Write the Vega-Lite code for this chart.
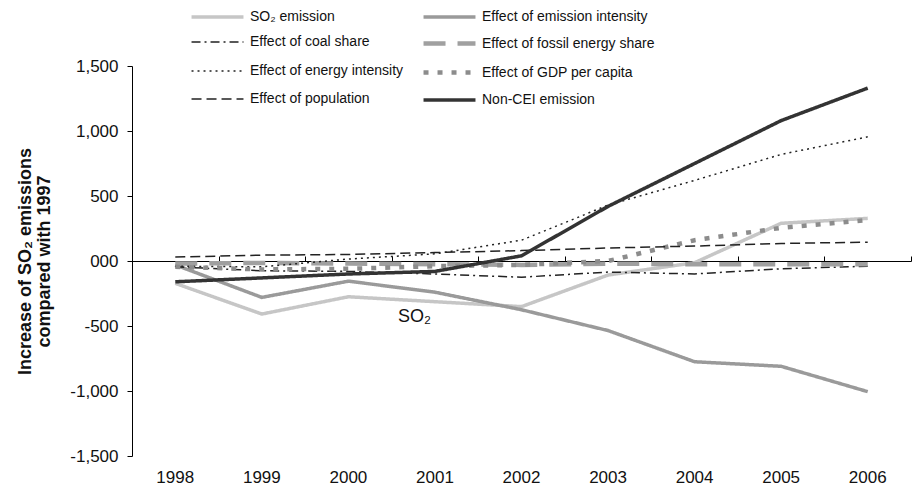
{
  "$schema": "https://vega.github.io/schema/vega-lite/v6.json",
  "width": 779,
  "height": 390,
  "autosize": {"type": "none"},
  "padding": {"left": 132, "top": 66, "right": 1, "bottom": 39},
  "background": "white",
  "config": {"view": {"stroke": null}, "font": "Liberation Sans"},
  "data": {"values": [
    {"year": "1998", "series": "SO₂ emission", "value": -172},
    {"year": "1999", "series": "SO₂ emission", "value": -408},
    {"year": "2000", "series": "SO₂ emission", "value": -275},
    {"year": "2001", "series": "SO₂ emission", "value": -313},
    {"year": "2002", "series": "SO₂ emission", "value": -351},
    {"year": "2003", "series": "SO₂ emission", "value": -108},
    {"year": "2004", "series": "SO₂ emission", "value": -13},
    {"year": "2005", "series": "SO₂ emission", "value": 290},
    {"year": "2006", "series": "SO₂ emission", "value": 328},
    {"year": "1998", "series": "Effect of emission intensity", "value": -30},
    {"year": "1999", "series": "Effect of emission intensity", "value": -280},
    {"year": "2000", "series": "Effect of emission intensity", "value": -155},
    {"year": "2001", "series": "Effect of emission intensity", "value": -240},
    {"year": "2002", "series": "Effect of emission intensity", "value": -375},
    {"year": "2003", "series": "Effect of emission intensity", "value": -535},
    {"year": "2004", "series": "Effect of emission intensity", "value": -775},
    {"year": "2005", "series": "Effect of emission intensity", "value": -810},
    {"year": "2006", "series": "Effect of emission intensity", "value": -1005},
    {"year": "1998", "series": "Effect of coal share", "value": -45},
    {"year": "1999", "series": "Effect of coal share", "value": -75},
    {"year": "2000", "series": "Effect of coal share", "value": -80},
    {"year": "2001", "series": "Effect of coal share", "value": -100},
    {"year": "2002", "series": "Effect of coal share", "value": -125},
    {"year": "2003", "series": "Effect of coal share", "value": -85},
    {"year": "2004", "series": "Effect of coal share", "value": -100},
    {"year": "2005", "series": "Effect of coal share", "value": -60},
    {"year": "2006", "series": "Effect of coal share", "value": -40},
    {"year": "1998", "series": "Effect of fossil energy share", "value": -20},
    {"year": "1999", "series": "Effect of fossil energy share", "value": -15},
    {"year": "2000", "series": "Effect of fossil energy share", "value": -20},
    {"year": "2001", "series": "Effect of fossil energy share", "value": -25},
    {"year": "2002", "series": "Effect of fossil energy share", "value": -30},
    {"year": "2003", "series": "Effect of fossil energy share", "value": -20},
    {"year": "2004", "series": "Effect of fossil energy share", "value": -25},
    {"year": "2005", "series": "Effect of fossil energy share", "value": -25},
    {"year": "2006", "series": "Effect of fossil energy share", "value": -25},
    {"year": "1998", "series": "Effect of energy intensity", "value": -40},
    {"year": "1999", "series": "Effect of energy intensity", "value": -45},
    {"year": "2000", "series": "Effect of energy intensity", "value": 15},
    {"year": "2001", "series": "Effect of energy intensity", "value": 55},
    {"year": "2002", "series": "Effect of energy intensity", "value": 160},
    {"year": "2003", "series": "Effect of energy intensity", "value": 430},
    {"year": "2004", "series": "Effect of energy intensity", "value": 620},
    {"year": "2005", "series": "Effect of energy intensity", "value": 820},
    {"year": "2006", "series": "Effect of energy intensity", "value": 955},
    {"year": "1998", "series": "Effect of GDP per capita", "value": -45},
    {"year": "1999", "series": "Effect of GDP per capita", "value": -65},
    {"year": "2000", "series": "Effect of GDP per capita", "value": -60},
    {"year": "2001", "series": "Effect of GDP per capita", "value": -40},
    {"year": "2002", "series": "Effect of GDP per capita", "value": -30},
    {"year": "2003", "series": "Effect of GDP per capita", "value": 0},
    {"year": "2004", "series": "Effect of GDP per capita", "value": 160},
    {"year": "2005", "series": "Effect of GDP per capita", "value": 255},
    {"year": "2006", "series": "Effect of GDP per capita", "value": 315},
    {"year": "1998", "series": "Effect of population", "value": 30},
    {"year": "1999", "series": "Effect of population", "value": 45},
    {"year": "2000", "series": "Effect of population", "value": 50},
    {"year": "2001", "series": "Effect of population", "value": 65},
    {"year": "2002", "series": "Effect of population", "value": 80},
    {"year": "2003", "series": "Effect of population", "value": 100},
    {"year": "2004", "series": "Effect of population", "value": 115},
    {"year": "2005", "series": "Effect of population", "value": 135},
    {"year": "2006", "series": "Effect of population", "value": 145},
    {"year": "1998", "series": "Non-CEI emission", "value": -160},
    {"year": "1999", "series": "Non-CEI emission", "value": -130},
    {"year": "2000", "series": "Non-CEI emission", "value": -100},
    {"year": "2001", "series": "Non-CEI emission", "value": -80},
    {"year": "2002", "series": "Non-CEI emission", "value": 40},
    {"year": "2003", "series": "Non-CEI emission", "value": 420},
    {"year": "2004", "series": "Non-CEI emission", "value": 750},
    {"year": "2005", "series": "Non-CEI emission", "value": 1080},
    {"year": "2006", "series": "Non-CEI emission", "value": 1330}
  ]},
  "layer": [
    {
      "mark": {"type": "line"},
      "encoding": {
        "x": {
          "field": "year", "type": "ordinal",
          "scale": {"type": "band", "paddingInner": 0, "paddingOuter": 0},
          "axis": {"title": null, "domain": false, "ticks": false, "labelPadding": 13, "labelFontSize": 17, "labelFont": "Liberation Sans", "labelColor": "#111", "labelAngle": 0, "grid": false}
        },
        "y": {
          "field": "value", "type": "quantitative",
          "scale": {"domain": [-1500, 1500], "nice": false},
          "axis": {
            "values": [-1500, -1000, -500, 0, 500, 1000, 1500],
            "labelExpr": "datum.value == 0 ? '000' : replace(format(datum.value, ','), '−', '-')",
            "grid": false, "tickSize": 5, "labelPadding": 9, "labelFontSize": 17, "labelFont": "Liberation Sans", "labelColor": "#111",
            "domainColor": "#000", "tickColor": "#000",
            "title": ["Increase of SO₂ emissions", "compared with 1997"],
            "titleFontSize": 18, "titleFontWeight": "bold", "titleFont": "Liberation Sans", "titleColor": "#111", "titleLineHeight": 19, "titlePadding": 16
          }
        },
        "color": {
          "field": "series", "type": "nominal",
          "scale": {
            "domain": ["SO₂ emission", "Effect of coal share", "Effect of energy intensity", "Effect of population", "Effect of emission intensity", "Effect of fossil energy share", "Effect of GDP per capita", "Non-CEI emission"],
            "range": ["#c6c6c6", "#222222", "#222222", "#222222", "#9a9a9a", "#a0a0a0", "#8c8c8c", "#333333"]
          },
          "legend": {
            "title": null, "orient": "none", "legendX": 59, "legendY": -57, "columns": 2, "direction": "vertical",
            "symbolType": "M-4.33,0H4.33", "symbolSize": 144, "symbolOffset": 18, "labelFont": "Liberation Sans", "labelFontSize": 14, "labelColor": "#111",
            "labelOffset": 24, "columnPadding": 10, "rowPadding": 10, "labelLimit": 300, "padding": 0
          }
        },
        "strokeDash": {
          "field": "series", "type": "nominal",
          "scale": {
            "type": "ordinal",
            "domain": ["SO₂ emission", "Effect of coal share", "Effect of energy intensity", "Effect of population", "Effect of emission intensity", "Effect of fossil energy share", "Effect of GDP per capita", "Non-CEI emission"],
            "range": [[1, 0], [9, 4, 2, 4], [2, 4], [10, 5], [1, 0], [22, 12], [5, 9], [1, 0]]
          }
        },
        "strokeWidth": {
          "field": "series", "type": "nominal",
          "scale": {
            "type": "ordinal",
            "domain": ["SO₂ emission", "Effect of coal share", "Effect of energy intensity", "Effect of population", "Effect of emission intensity", "Effect of fossil energy share", "Effect of GDP per capita", "Non-CEI emission"],
            "range": [3.5, 1.5, 1.5, 1.5, 3.5, 4.5, 4.5, 3.5]
          }
        }
      }
    },
    {
      "data": {"values": [{"label": "SO₂"}]},
      "mark": {"type": "text", "fontSize": 18, "font": "Liberation Sans", "color": "#111", "dx": 66, "baseline": "middle", "align": "center"},
      "encoding": {
        "text": {"field": "label"},
        "x": {"datum": "2000", "type": "ordinal",
          "axis": {"title": null, "labels": false, "domain": true, "ticks": true, "tickBand": "extent", "tickSize": 5, "offset": -195, "domainColor": "#000", "tickColor": "#000", "grid": false}
        },
        "y": {"datum": -430, "type": "quantitative"}
      }
    }
  ],
  "resolve": {"axis": {"x": "independent"}}
}
